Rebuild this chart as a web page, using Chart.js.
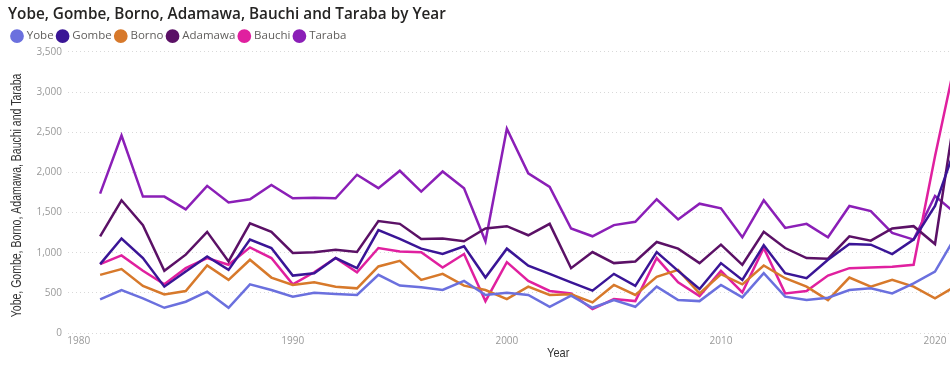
<!DOCTYPE html>
<html>
<head>
<meta charset="utf-8">
<title>Yobe, Gombe, Borno, Adamawa, Bauchi and Taraba by Year</title>
<script src="https://cdn.jsdelivr.net/npm/chart.js@4.4.0/dist/chart.umd.min.js"></script>
<style>
  html, body { margin: 0; padding: 0; background: #fff; overflow: hidden; }
  .chart-wrap { position: relative; width: 950px; height: 365px; }
</style>
</head>
<body>
<div class="chart-wrap"><canvas id="chart"></canvas></div>
<script>
/* ------------------------------------------
   DATA
   ------------------------------------------ */
var years = [1981, 1982, 1983, 1984, 1985, 1986, 1987, 1988, 1989, 1990,
             1991, 1992, 1993, 1994, 1995, 1996, 1997, 1998, 1999, 2000,
             2001, 2002, 2003, 2004, 2005, 2006, 2007, 2008, 2009, 2010,
             2011, 2012, 2013, 2014, 2015, 2016, 2017, 2018, 2019, 2020, 2021];

var yobe = [418, 535, 431, 314, 389, 514, 314, 606, 535, 452,
            502, 485, 473, 724, 590, 569, 535, 648, 473, 502,
            473, 326, 464, 314, 410, 326, 577, 410, 397, 598,
            443, 744, 452, 410, 439, 535, 556, 493, 619, 765, 1220];

var gombe = [857, 1176, 933, 577, 765, 953, 786, 1163, 1058, 715,
             744, 933, 807, 1280, 1171, 1050, 983, 1079, 690, 1050,
             837, 736, 631, 527, 736, 586, 1008, 774, 548, 870,
             661, 1092, 744, 682, 912, 1108, 1100, 983, 1163, 1581, 2350];

var borno = [724, 795, 586, 481, 523, 841, 661, 912, 690, 598,
             631, 577, 556, 828, 899, 661, 736, 590, 535, 422,
             577, 473, 481, 381, 598, 473, 700, 786, 493, 732,
             606, 841, 682, 577, 410, 690, 577, 661, 577, 431, 590];

var adamawa = [1204, 1652, 1343, 774, 975, 1259, 891, 1364, 1259, 996,
               1004, 1037, 1008, 1393, 1359, 1171, 1175, 1142, 1301, 1330,
               1217, 1359, 807, 1008, 870, 891, 1133, 1050, 870, 1100,
               849, 1259, 1058, 933, 925, 1204, 1150, 1301, 1330, 1108, 2850];

var bauchi = [857, 966, 774, 606, 807, 933, 849, 1066, 933, 606,
              756, 933, 756, 1058, 1016, 1004, 815, 983, 397, 882,
              648, 523, 493, 297, 422, 397, 933, 631, 460, 774,
              506, 1058, 493, 523, 715, 807, 815, 824, 849, 2200, 3450];

var taraba = [1735, 2459, 1698, 1698, 1539, 1832, 1625, 1665, 1844, 1677,
              1685, 1677, 1970, 1803, 2020, 1761, 2011, 1803, 1142, 2543,
              1987, 1819, 1301, 1204, 1343, 1384, 1665, 1414, 1610, 1552,
              1192, 1652, 1309, 1359, 1192, 1581, 1518, 1246, 1163, 1706, 1480];

var xTicks = [1980, 1990, 2000, 2010, 2020];
var yTicks = [0, 500, 1000, 1500, 2000, 2500, 3000, 3500];

var seriesNames = ['Yobe', 'Gombe', 'Borno', 'Adamawa', 'Bauchi', 'Taraba'];
var seriesValues = [yobe, gombe, borno, adamawa, bauchi, taraba];
var seriesColors = ['#6B70DE', '#3A1596', '#D7792B', '#5B1166', '#E0209F', '#8B1FB7'];

/* ------------------------------------------
   CHART
   ------------------------------------------ */
(function () {
  'use strict';

  var axisFont = "'Liberation Sans', Arial, sans-serif";
  var uiFont = "'Open Sans', 'Noto Sans', sans-serif";

  function toPoints(values) {
    return values.map(function (v, i) { return { x: years[i], y: v }; });
  }

  var datasets = seriesNames.map(function (name, i) {
    return {
      label: name,
      data: toPoints(seriesValues[i]),
      borderColor: seriesColors[i],
      backgroundColor: seriesColors[i],
      borderWidth: 2.5,
      pointRadius: 0,
      pointHoverRadius: 0,
      tension: 0,
      fill: false
    };
  });

  // Axis titles: the original uses a condensed face, so squeeze the
  // text horizontally; "Year" sits right of the plot centre.
  var axisTitlePlugin = {
    id: 'axisTitles',
    afterDraw: function (chart) {
      var ctx = chart.ctx;
      var xs = chart.scales.x;
      var area = chart.chartArea;

      ctx.save();
      ctx.fillStyle = '#333333';
      ctx.textAlign = 'center';
      ctx.textBaseline = 'middle';
      ctx.font = '14px ' + axisFont;

      ctx.save();
      ctx.translate(17, (area.top + area.bottom) / 2 + 3);
      ctx.rotate(-Math.PI / 2);
      ctx.scale(0.75, 1);
      ctx.fillText('Yobe, Gombe, Borno, Adamawa, Bauchi and Taraba', 0, 0);
      ctx.restore();

      ctx.font = '13px ' + axisFont;
      ctx.save();
      ctx.translate(xs.getPixelForValue(2002.4), chart.height - 12);
      ctx.scale(0.85, 1);
      ctx.fillText('Year', 0, 0);
      ctx.restore();

      ctx.restore();
    }
  };

  new Chart(document.getElementById('chart').getContext('2d'), {
    type: 'line',
    data: { datasets: datasets },
    plugins: [axisTitlePlugin],
    options: {
      responsive: true,
      maintainAspectRatio: false,
      animation: false,
      layout: { padding: { left: 8, right: 0, top: 2, bottom: 16 } },
      plugins: {
        title: {
          display: true,
          text: 'Yobe, Gombe, Borno, Adamawa, Bauchi and Taraba by Year',
          align: 'start',
          color: '#252423',
          font: { family: uiFont, size: 15.3, weight: '600' },
          padding: { top: 3, bottom: 2 }
        },
        legend: {
          display: true,
          align: 'start',
          labels: {
            usePointStyle: true,
            pointStyle: 'circle',
            boxWidth: 8,
            boxHeight: 8,
            padding: 5,
            color: '#605E5C',
            font: { family: uiFont, size: 11.5 }
          }
        },
        tooltip: { enabled: false }
      },
      scales: {
        x: {
          type: 'linear',
          min: 1979.5,
          max: 2020.7,
          afterBuildTicks: function (scale) {
            scale.ticks = xTicks.map(function (v) { return { value: v }; });
          },
          grid: { display: false, drawTicks: false },
          border: { display: false },
          ticks: {
            color: '#999999',
            padding: 2,
            maxRotation: 0,
            font: { family: uiFont, size: 10 },
            callback: function (v) { return String(v); }
          }
        },
        y: {
          min: 0,
          max: 3500,
          afterBuildTicks: function (scale) {
            scale.ticks = yTicks.map(function (v) { return { value: v }; });
          },
          afterFit: function (scale) { scale.width = 60; },
          grid: { color: '#D9D9D9', lineWidth: 1, drawTicks: false },
          border: { display: false, dash: [1, 3] },
          ticks: {
            color: '#999999',
            padding: 6,
            font: { family: uiFont, size: 10 },
            callback: function (v) { return v.toLocaleString('en-US'); }
          }
        }
      }
    }
  });
})();
</script>
</body>
</html>
